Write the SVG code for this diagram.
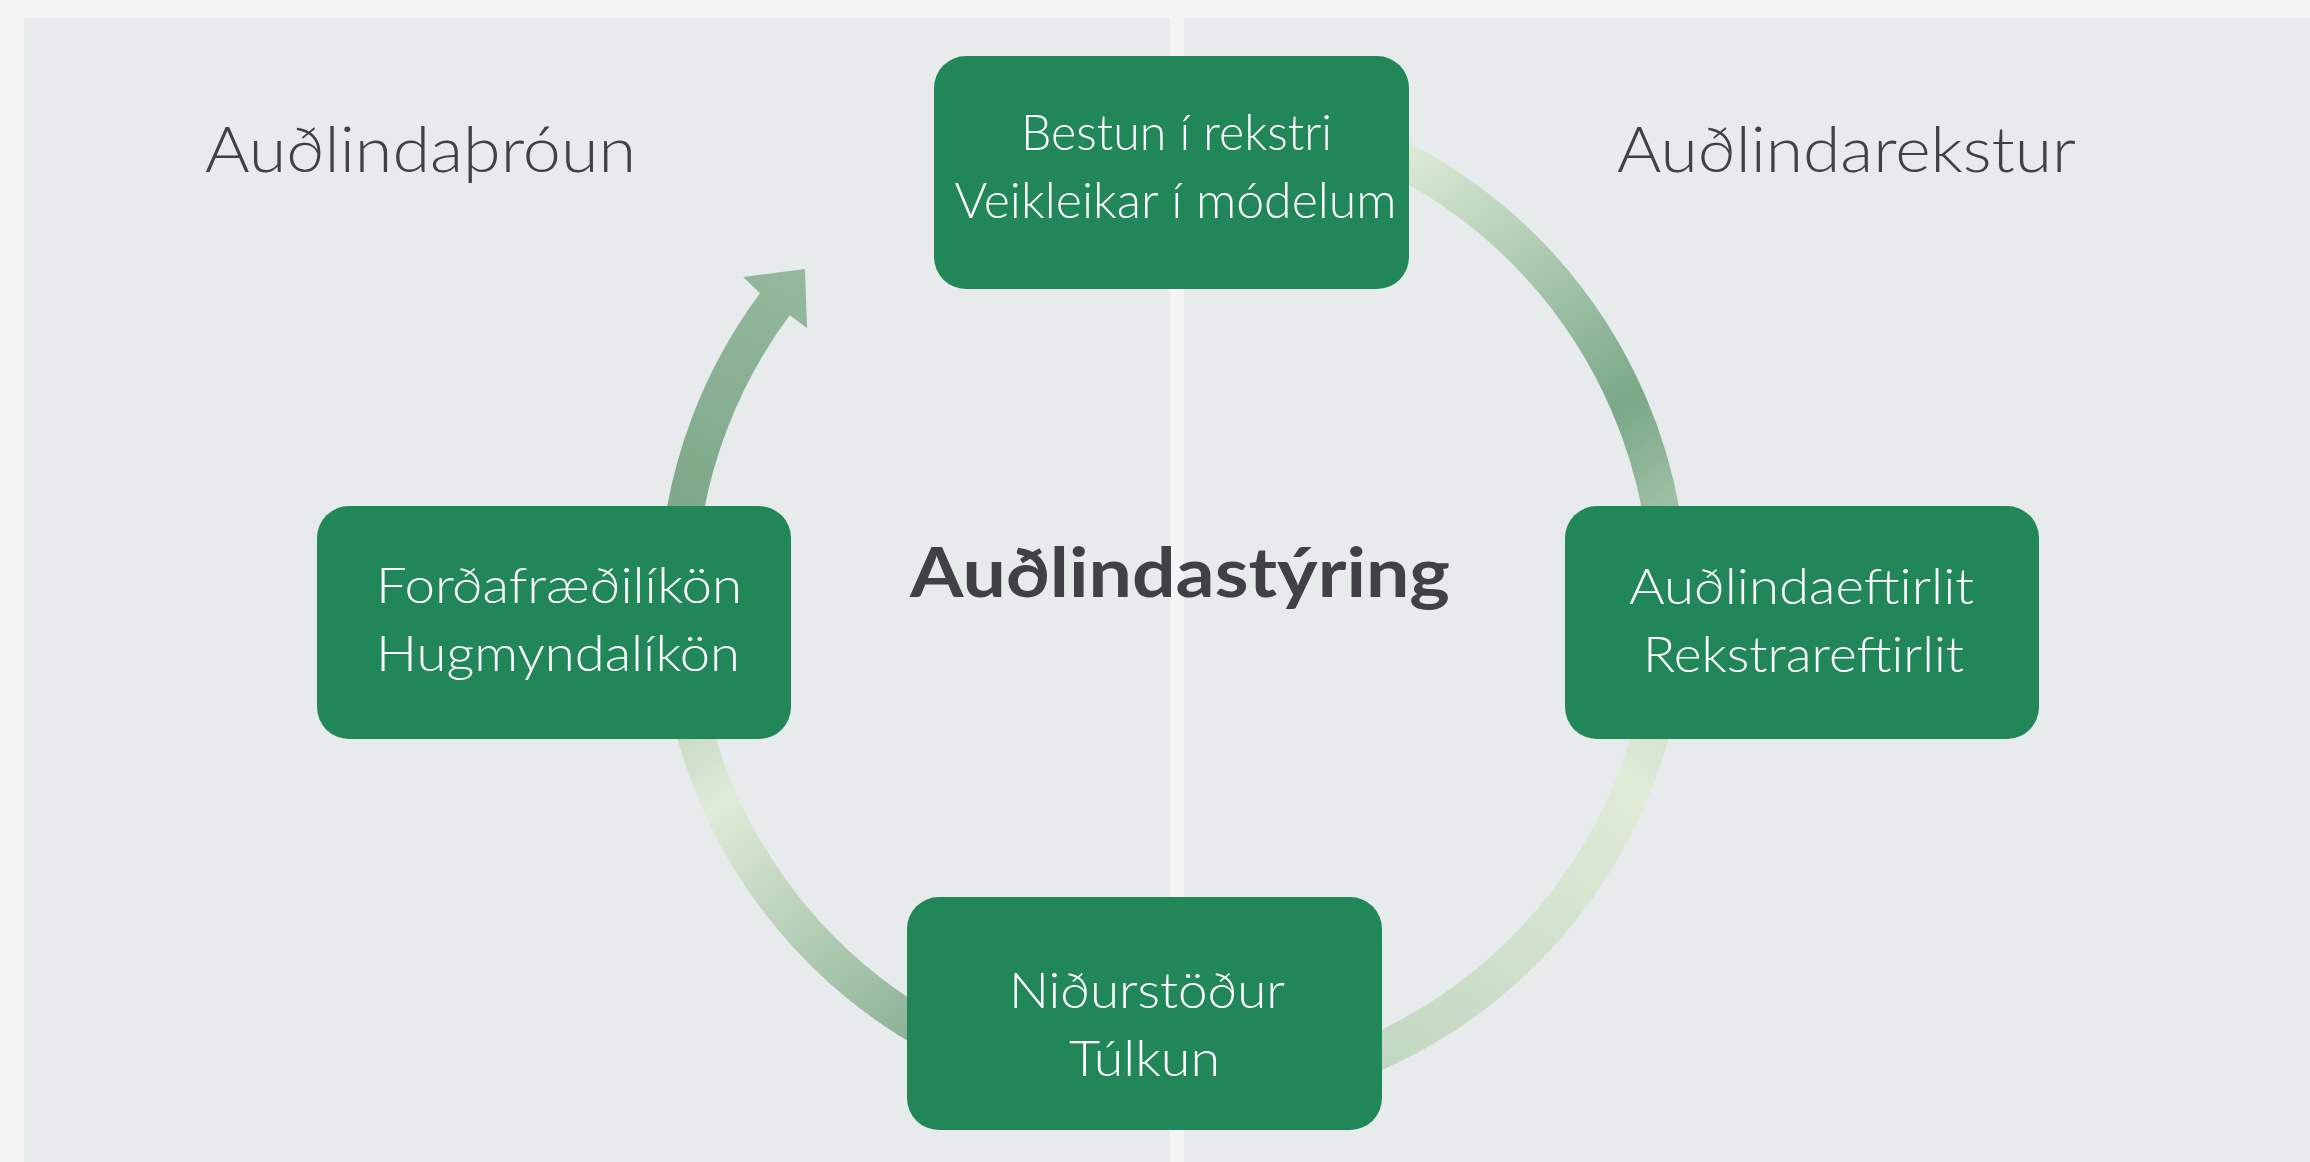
<svg xmlns="http://www.w3.org/2000/svg" width="2310" height="1162" viewBox="0 0 2310 1162">
<style>
.panel{fill:#e7ebeb}
.node{fill:#218759}
.ntext{font-family:Lato,"Open Sans","Liberation Sans",sans-serif;font-weight:300;font-size:50px;fill:#ffffff;text-anchor:middle}
.title{font-family:Lato,"Open Sans","Liberation Sans",sans-serif;font-weight:300;font-size:64px;fill:#404046;text-anchor:middle}
.center{font-family:Lato,"Open Sans","Liberation Sans",sans-serif;font-weight:700;font-size:68px;fill:#404046;text-anchor:middle}
</style>
<defs>
<linearGradient id="gTR" gradientUnits="userSpaceOnUse" x1="1400" y1="140" x2="1670" y2="520">
<stop offset="0" stop-color="#e1edd9"/>
<stop offset="0.74" stop-color="#7aa888"/>
<stop offset="1" stop-color="#a3c2a8"/>
</linearGradient>
<linearGradient id="gBR" gradientUnits="userSpaceOnUse" x1="1670" y1="730" x2="1390" y2="1070">
<stop offset="0" stop-color="#d3e2cf"/>
<stop offset="0.15" stop-color="#e0ebd8"/>
<stop offset="1" stop-color="#c2d7c1"/>
</linearGradient>
<linearGradient id="gBL" gradientUnits="userSpaceOnUse" x1="675" y1="730" x2="910" y2="1045">
<stop offset="0" stop-color="#c5d9c3"/>
<stop offset="0.22" stop-color="#e0ebd8"/>
<stop offset="1" stop-color="#8ab195"/>
</linearGradient>
<linearGradient id="gArrow" gradientUnits="userSpaceOnUse" x1="690" y1="510" x2="800" y2="270">
<stop offset="0" stop-color="#7ea889"/>
<stop offset="1" stop-color="#95b99d"/>
</linearGradient>
</defs>
<rect x="0" y="0" width="2310" height="1162" fill="#f4f4f4"/>
<rect class="panel" x="24" y="18" width="1146" height="1144"/>
<rect class="panel" x="1184" y="18" width="1126" height="1144"/>

<g id="connectors">
<path d="M 1259.1 111.5 A 496 496 0 0 1 1667.2 556.8" fill="none" stroke="url(#gTR)" stroke-width="37"/>
<path d="M 1667.2 643.2 A 496 496 0 0 1 1259.1 1088.5" fill="none" stroke="url(#gBR)" stroke-width="37"/>
<path d="M 1086.9 1088.5 A 496 496 0 0 1 678.8 643.2" fill="none" stroke="url(#gBL)" stroke-width="37"/>
<path d="M 660.5 555.2 A 514.5 514.5 0 0 1 760.0 293.3 L 743 277 L 805 269 L 807 328 L 789.7 315.3 A 477.5 477.5 0 0 0 697.3 558.4 Z" fill="url(#gArrow)"/>
</g>

<text class="title" x="420.5" y="172" textLength="431" lengthAdjust="spacingAndGlyphs">Auðlindaþróun</text>
<text class="title" x="1846.5" y="172" textLength="459" lengthAdjust="spacingAndGlyphs">Auðlindarekstur</text>
<text class="center" x="1180" y="597" textLength="540" lengthAdjust="spacingAndGlyphs">Auðlindastýring</text>

<g id="node-top">
<rect class="node" x="934" y="56" width="475" height="233" rx="32"/>
<text class="ntext" x="1176.5" y="150" textLength="311" lengthAdjust="spacingAndGlyphs">Bestun í rekstri</text>
<text class="ntext" x="1175.5" y="218" textLength="442" lengthAdjust="spacingAndGlyphs">Veikleikar í módelum</text>
</g>
<g id="node-left">
<rect class="node" x="317" y="506" width="474" height="233" rx="32"/>
<text class="ntext" x="559" y="603" textLength="366" lengthAdjust="spacingAndGlyphs">Forðafræðilíkön</text>
<text class="ntext" x="558" y="671" textLength="364" lengthAdjust="spacingAndGlyphs">Hugmyndalíkön</text>
</g>
<g id="node-right">
<rect class="node" x="1565" y="506" width="474" height="233" rx="32"/>
<text class="ntext" x="1801.5" y="604" textLength="345" lengthAdjust="spacingAndGlyphs">Auðlindaeftirlit</text>
<text class="ntext" x="1803.5" y="672" textLength="321" lengthAdjust="spacingAndGlyphs">Rekstrareftirlit</text>
</g>
<g id="node-bottom">
<rect class="node" x="907" y="897" width="475" height="233" rx="32"/>
<text class="ntext" x="1147" y="1008" textLength="276" lengthAdjust="spacingAndGlyphs">Niðurstöður</text>
<text class="ntext" x="1144.5" y="1076" textLength="151" lengthAdjust="spacingAndGlyphs">Túlkun</text>
</g>
</svg>
